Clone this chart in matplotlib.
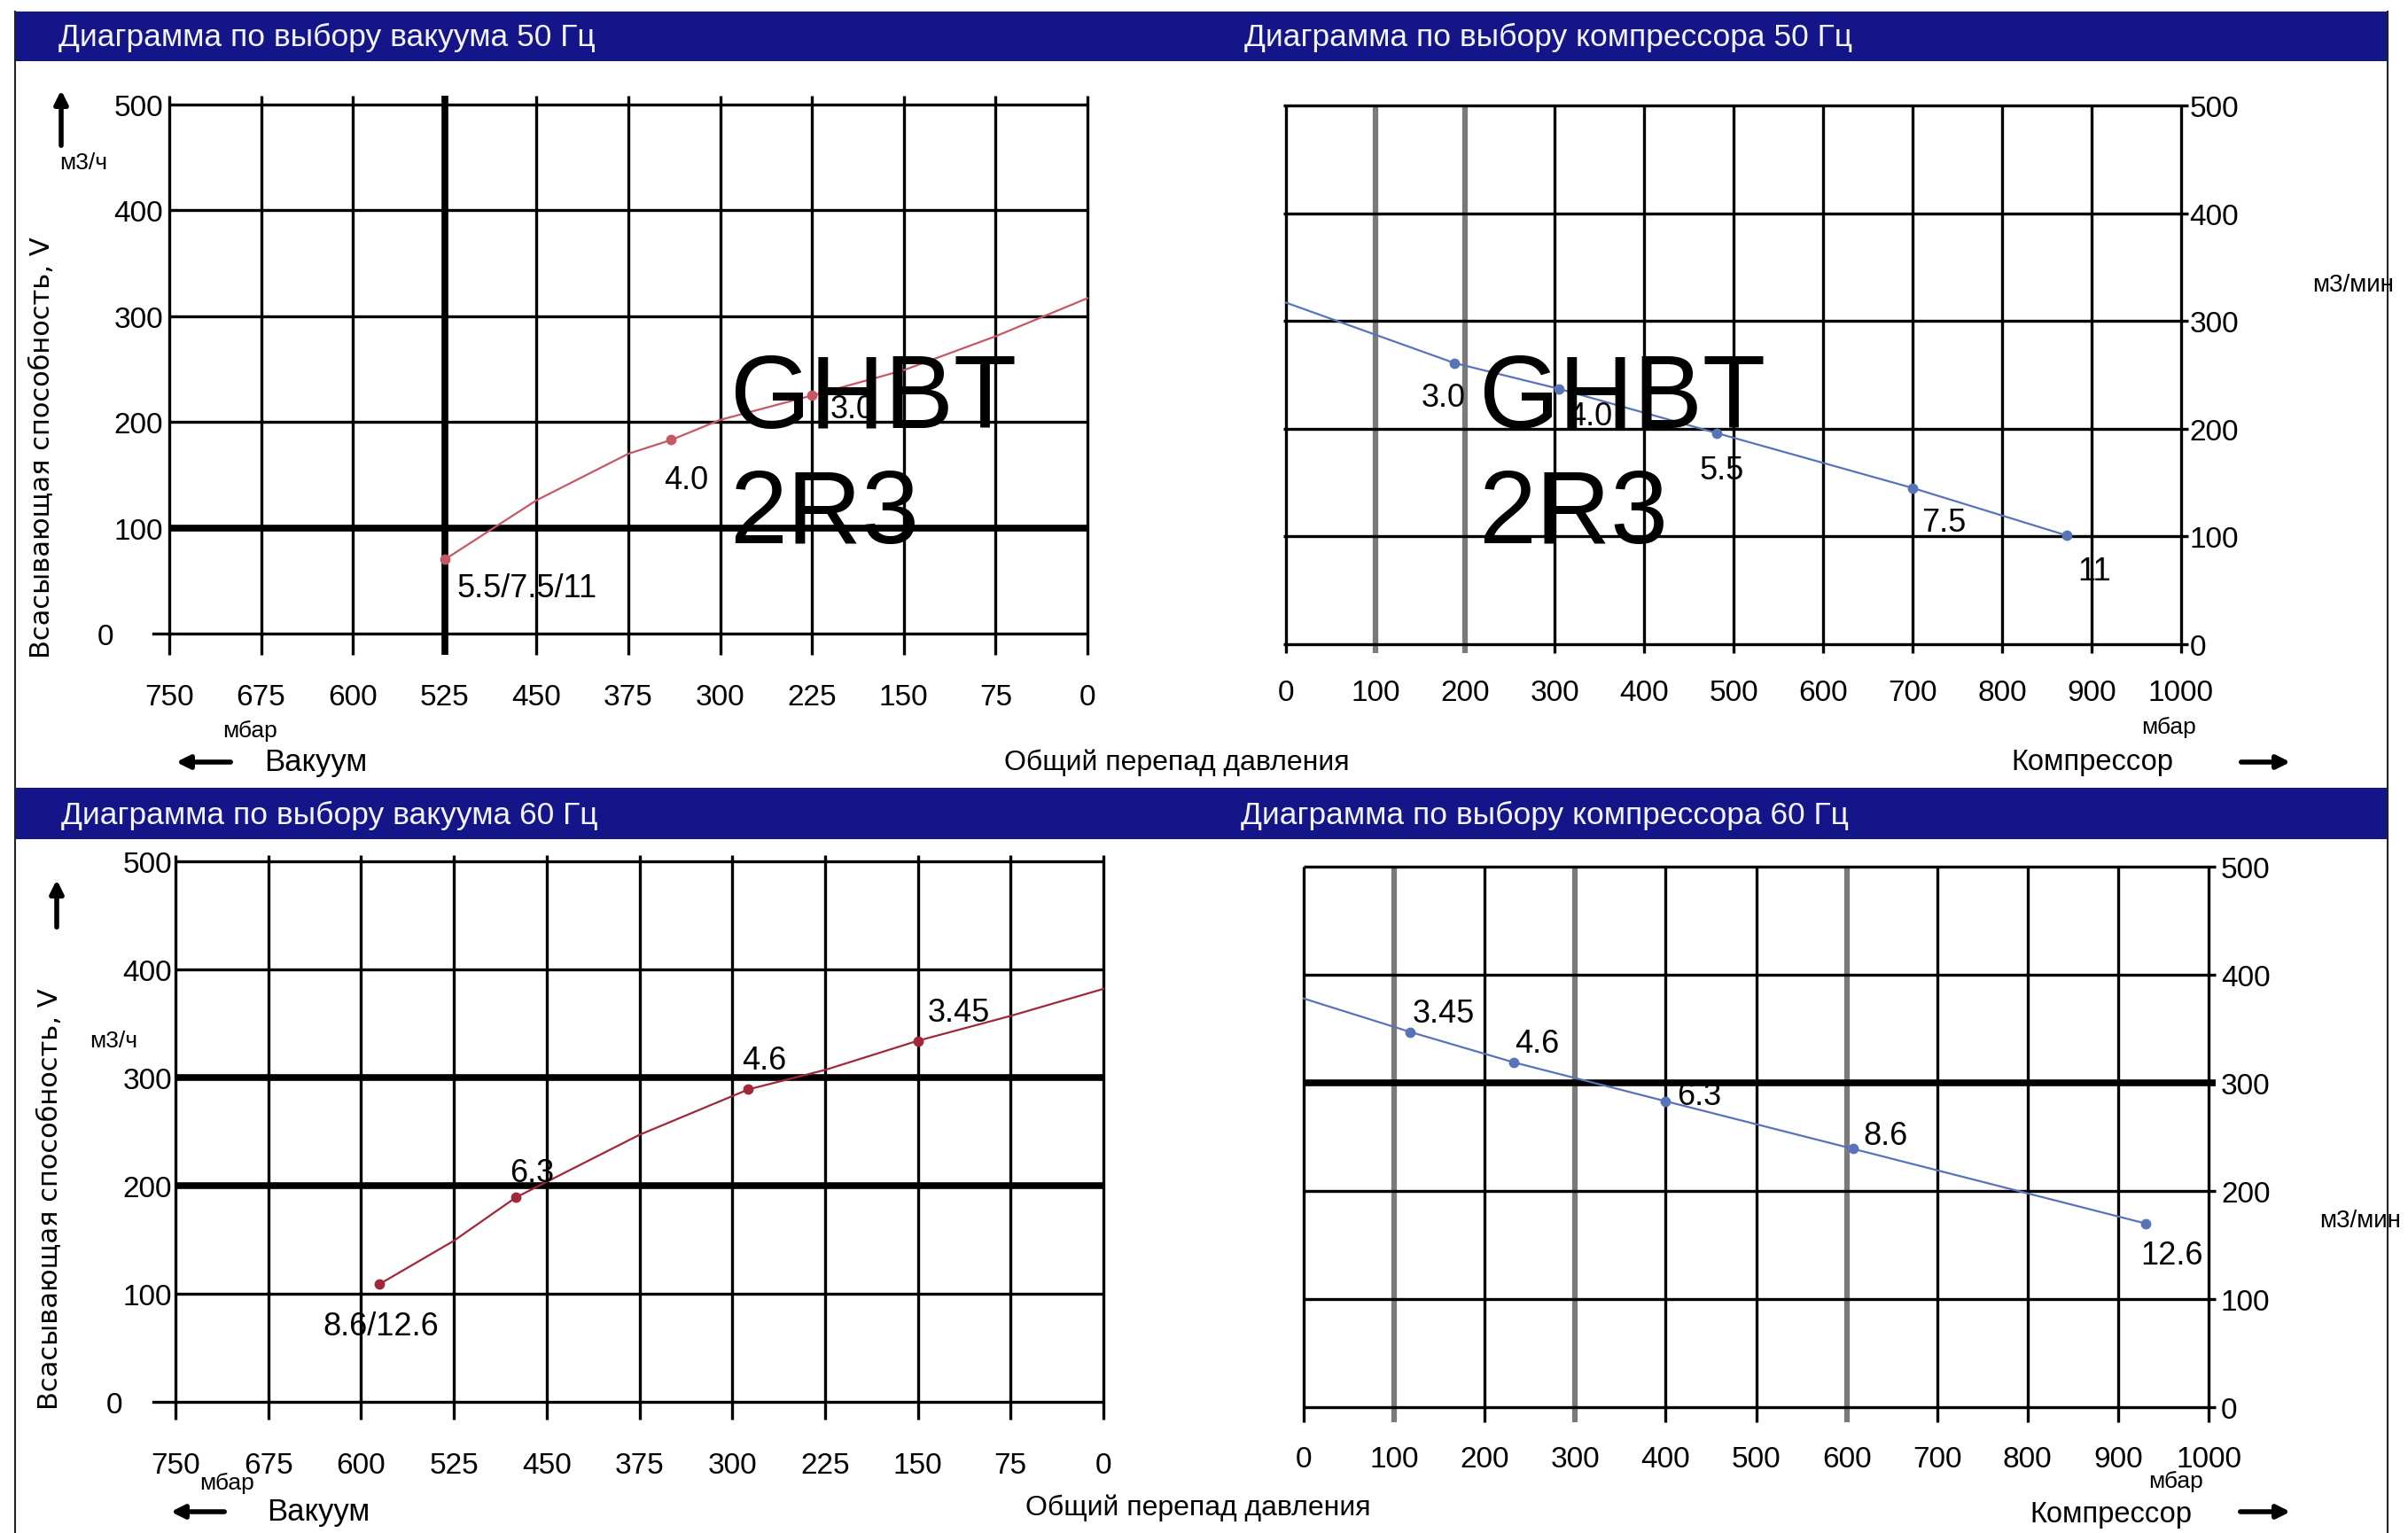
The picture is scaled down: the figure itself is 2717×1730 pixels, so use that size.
import matplotlib
matplotlib.use("Agg")
import matplotlib.pyplot as plt
from matplotlib.patches import Rectangle, FancyArrowPatch
from matplotlib.lines import Line2D

# ---------------- data ----------------
vac_ticks = [750, 675, 600, 525, 450, 375, 300, 225, 150, 75, 0]
comp_ticks = [0, 100, 200, 300, 400, 500, 600, 700, 800, 900, 1000]
flow_ticks = [0, 100, 200, 300, 400, 500]

# vacuum 50 Hz (red curve)
vac50_curve_x = [525, 450, 375, 340, 300, 225, 150, 75, 0]
vac50_curve_y = [70, 126, 170, 183, 202, 225, 249, 281, 317]
vac50_pts_x = [525, 340, 225]
vac50_pts_y = [70, 183, 225]
vac50_labels = ["5.5/7.5/11", "4.0", "3.0"]

# compressor 50 Hz (blue line)
comp50_curve_x = [0, 188, 305, 481, 700, 872]
comp50_curve_y = [317, 261, 237, 196, 145, 101]
comp50_pts_x = [188, 305, 481, 700, 872]
comp50_pts_y = [261, 237, 196, 145, 101]
comp50_labels = ["3.0", "4.0", "5.5", "7.5", "11"]

# vacuum 60 Hz
vac60_curve_x = [585, 525, 475, 375, 287, 225, 150, 75, 0]
vac60_curve_y = [109, 149, 189, 247, 289, 307, 334, 357, 382]
vac60_pts_x = [585, 475, 287, 150]
vac60_pts_y = [109, 189, 289, 334]
vac60_labels = ["8.6/12.6", "6.3", "4.6", "3.45"]

# compressor 60 Hz
comp60_curve_x = [0, 118, 232, 400, 607, 930]
comp60_curve_y = [378, 347, 319, 283, 239, 170]
comp60_pts_x = [118, 232, 400, 607, 930]
comp60_pts_y = [347, 319, 283, 239, 170]
comp60_labels = ["3.45", "4.6", "6.3", "8.6", "12.6"]

titles = ["Диаграмма по выбору вакуума 50 Гц", "Диаграмма по выбору компрессора 50 Гц",
          "Диаграмма по выбору вакуума 60 Гц", "Диаграмма по выбору компрессора 60 Гц"]
model_text = "GHBT\n2R3"
ylabel_text = "Всасывающая способность, V"
xlabel_text = "Общий перепад давления"

# ---------------- figure ----------------
W, H = 2717, 1731
fig = plt.figure(figsize=(W / 100, H / 100), dpi=100)
fig.patch.set_facecolor("white")

SANS = ["Liberation Sans", "DejaVu Sans"]


def fx(x):
    return x / W


def fy(y):
    return 1 - y / H


def add_axes_px(x0, ytop, x1, ybot):
    return fig.add_axes([fx(x0), fy(ybot), (x1 - x0) / W, (ybot - ytop) / H])


def ftext(x, y, s, **kw):
    kw.setdefault("family", SANS)
    fig.text(fx(x), fy(y), s, **kw)


# outer frame and banners
for x0 in (17, 2694):
    fig.add_artist(Line2D([fx(x0), fx(x0)], [fy(14), fy(1731)], color="#222222", lw=1.5))
for ytop, ybot in [(14, 70), (890, 948)]:
    fig.add_artist(Rectangle((fx(17), fy(ybot)), (2694 - 17) / W, (ybot - ytop) / H,
                             facecolor="#15158a", edgecolor="none"))
ftext(66, 42, titles[0], color="#f4f4ff", fontsize=25.5, va="center")
ftext(1404, 42, titles[1], color="#f4f4ff", fontsize=25.5, va="center")
ftext(69, 920, titles[2], color="#f4f4ff", fontsize=25.5, va="center")
ftext(1400, 920, titles[3], color="#f4f4ff", fontsize=25.5, va="center")

RED1 = "#c65866"
RED2 = "#a02838"
BLUE = "#5874b8"
GRAY = "#7a7a7a"


def draw_grid(ax, xt, yt, xlo_ext, xhi_ext, ybot_ext, ytop_ext,
              thick_v=(), thick_h=(), gray_v=()):
    xmin, xmax = min(xt), max(xt)
    for v in xt:
        c, lw = "black", 2.4
        if v in gray_v:
            c, lw = GRAY, 4.5
        if v in thick_v:
            lw = 5.5
        ax.plot([v, v], [min(yt) - ybot_ext, max(yt) + ytop_ext], color=c, lw=lw,
                clip_on=False, zorder=1, solid_capstyle="butt")
    for h in yt:
        lw = 5.5 if h in thick_h else 2.4
        ax.plot([xmin - xlo_ext, xmax + xhi_ext], [h, h], color="black", lw=lw,
                clip_on=False, zorder=1, solid_capstyle="butt")


def setup(ax, xt, xlim, right=False, xpad=38, ypad=4, zero_pad=""):
    ax.set_xlim(*xlim)
    ax.set_ylim(0, 500)
    for s in ax.spines.values():
        s.set_visible(False)
    ax.set_xticks(xt)
    ax.set_xticklabels([str(v) for v in xt], family=SANS, fontsize=24)
    ax.set_yticks(flow_ticks)
    ylabels = [str(v) for v in flow_ticks]
    ylabels[0] = ylabels[0] + zero_pad
    ax.set_yticklabels(ylabels, family=SANS, fontsize=24)
    if right:
        ax.yaxis.tick_right()
    ax.tick_params(axis="x", length=0, pad=xpad)
    ax.tick_params(axis="y", length=0, pad=ypad)
    ax.set_facecolor("none")


def draw_series(ax, cx, cy, px, py, labels, offsets, lc, mc, lw=1.6):
    ax.plot(cx, cy, color=lc, lw=lw, zorder=3, clip_on=False)
    ax.plot(px, py, "o", color=mc, ms=7.5, zorder=4, clip_on=False)
    for x, y, s, (dx, dy) in zip(px, py, labels, offsets):
        ax.annotate(s, (x, y), xytext=(dx, dy), textcoords="offset pixels",
                    ha="center", va="center", fontsize=26, family=SANS, zorder=4)


# ---- top-left: vacuum 50 Hz
ax1 = add_axes_px(191, 119, 1227, 716)
setup(ax1, vac_ticks, (750, 0), xpad=40, ypad=5, zero_pad="      ")
draw_grid(ax1, vac_ticks, flow_ticks, 0, 0, 20, 8, thick_v=(525,), thick_h=(100,))
ax1.plot([750, 763], [0, 0], color="black", lw=2.4, clip_on=False)
draw_series(ax1, vac50_curve_x, vac50_curve_y, vac50_pts_x, vac50_pts_y, vac50_labels,
            [(93, -32), (17, -45), (45, -15)], RED1, RED1)
ftext(823, 613, model_text, fontsize=84, va="baseline", ha="left", linespacing=1.25,
      zorder=6)

# ---- top-right: compressor 50 Hz
ax2 = add_axes_px(1451, 120, 2461, 728)
setup(ax2, comp_ticks, (0, 1000), right=True, xpad=28, ypad=7)
draw_grid(ax2, comp_ticks, flow_ticks, 3, 8, 8, 0, gray_v=(100, 200))
draw_series(ax2, comp50_curve_x, comp50_curve_y, comp50_pts_x, comp50_pts_y, comp50_labels,
            [(-12, -39), (35, -31), (6, -42), (35, -39), (31, -40)], BLUE, BLUE)
ftext(1668, 613, model_text, fontsize=84, va="baseline", ha="left", linespacing=1.25,
      zorder=6)

# ---- bottom-left: vacuum 60 Hz
ax3 = add_axes_px(198, 973, 1245, 1583)
setup(ax3, vac_ticks, (750, 0), xpad=40, ypad=3, zero_pad="      ")
draw_grid(ax3, vac_ticks, flow_ticks, 0, 0, 16, 6, thick_h=(200, 300))
ax3.plot([750, 768], [0, 0], color="black", lw=2.4, clip_on=False)
draw_series(ax3, vac60_curve_x, vac60_curve_y, vac60_pts_x, vac60_pts_y, vac60_labels,
            [(1, -47), (18, 28), (18, 33), (46, 32)], RED2, RED2)

# ---- bottom-right: compressor 60 Hz
ax4 = add_axes_px(1471, 979, 2492, 1589)
setup(ax4, comp_ticks, (0, 1000), right=True, xpad=31, ypad=10)
draw_grid(ax4, comp_ticks, flow_ticks, 0, 8, 14, 0, gray_v=(100, 300, 600),
          thick_h=(300,))
draw_series(ax4, comp60_curve_x, comp60_curve_y, comp60_pts_x, comp60_pts_y, comp60_labels,
            [(37, 21), (26, 21), (38, 6), (37, 15), (30, -36)], BLUE, BLUE)

# ---- axis annotations
ftext(48, 505, ylabel_text, rotation=90, fontsize=22, va="center", ha="center",
      family=["DejaVu Sans"])
ftext(57, 1353, ylabel_text, rotation=90, fontsize=22, va="center", ha="center",
      family=["DejaVu Sans"])
ftext(94, 184, "м3/ч", fontsize=19, va="center", ha="center")
ftext(128, 1175, "м3/ч", fontsize=19, va="center", ha="center")
ftext(2655, 322, "м3/мин", fontsize=20, va="center", ha="center")
ftext(2663, 1378, "м3/мин", fontsize=20, va="center", ha="center")

for x, y in [(282, 825), (256, 1674), (2447, 821), (2455, 1672)]:
    ftext(x, y, "мбар", fontsize=19, va="center", ha="center")
ftext(298, 861, "Вакуум", fontsize=25, va="center", ha="left")
ftext(301, 1707, "Вакуум", fontsize=25, va="center", ha="left")
ftext(2452, 861, "Компрессор", fontsize=23.5, va="center", ha="right")
ftext(2473, 1710, "Компрессор", fontsize=23.5, va="center", ha="right")
ftext(1328, 861, xlabel_text, fontsize=23, va="center", ha="center")
ftext(1352, 1702, xlabel_text, fontsize=23, va="center", ha="center")


def arrow(x0, y0, x1, y1):
    fig.add_artist(FancyArrowPatch((fx(x0), fy(y0)), (fx(x1), fy(y1)),
                                   transform=fig.transFigure, arrowstyle="-|>",
                                   mutation_scale=22, lw=4, color="black"))


arrow(69, 168, 69, 100)
arrow(64, 1050, 64, 991)
arrow(263, 861, 196, 861)
arrow(256, 1707, 190, 1707)
arrow(2526, 861, 2587, 861)
arrow(2525, 1707, 2587, 1707)

fig.savefig("out.png", dpi=100, facecolor="white")
